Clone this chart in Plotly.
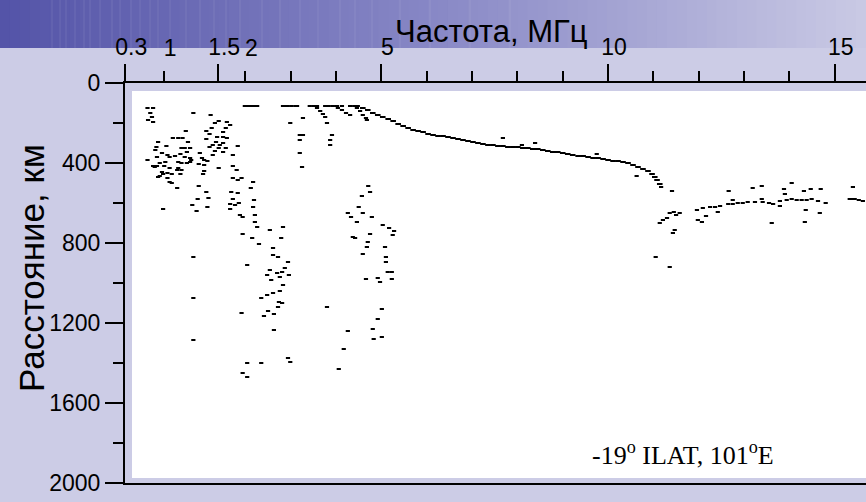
import numpy as np
import plotly.graph_objects as go

# ---------------------------------------------------------------------------
# Frequency scale of the ionogram: compressed below 2 MHz, linear above.
FREQ_KNOTS = [0.3, 1.0, 1.5, 2.0, 16.0]
AXIS_KNOTS = [-0.65, 0.21, 1.40, 2.0, 16.0]


def fpos(freq):
    """Map frequency (MHz) to the position on the frequency axis."""
    return np.interp(np.asarray(freq, dtype=float), FREQ_KNOTS, AXIS_KNOTS)


# Tick labels
MAJOR_TICKS = [0.3, 1.5, 5, 10, 15]
MAJOR_LABELS = ["0.3", "1.5", "5", "10", "15"]
EXTRA_TICKS = [1, 2]
EXTRA_LABELS = ["1", "2"]
MINOR_TICKS = [1, 2, 3, 4, 6, 7, 8, 9, 11, 12, 13, 14]
DIST_TICKS = [0, 400, 800, 1200, 1600, 2000]

# ---------------------------------------------------------------------------
# Echoes: frequency (MHz) and group range (km)

# low-frequency sporadic / spread echoes
low_freq = [0.70, 0.80, 0.75, 0.78, 0.71, 0.80,
            1.27, 1.43, 1.51, 1.44, 1.47, 1.66, 1.72, 1.64, 1.59,
            1.20, 1.39, 1.42, 1.59, 1.49, 1.66,
            0.89, 1.08, 1.13, 1.17, 1.22, 1.39, 1.48, 1.53, 1.59, 1.45, 1.51, 1.64, 1.42, 1.86,
            0.86, 1.02, 1.16, 1.19, 1.24, 1.21, 0.84, 0.96, 1.03, 1.15, 1.19, 1.24, 0.87, 1.05, 1.10,
            1.47, 1.59, 1.77, 1.45, 1.33, 1.25, 0.70, 0.92, 0.80, 0.87, 1.01, 1.13, 1.16, 1.21, 1.24,
            1.35, 1.37, 1.40, 1.32, 1.37, 1.05, 1.13, 1.12, 1.16, 1.51, 1.77,
            0.96, 0.98, 0.92, 1.07, 1.15, 0.89, 1.05, 1.07, 1.03, 1.37, 1.36,
            1.84, 1.77, 1.86, 1.93, 1.32, 1.12, 2.17, 2.12, 1.39, 1.74, 1.86,
            0.83, 1.00, 1.03,
            1.41, 1.31, 1.26, 1.30, 1.40, 1.77, 1.72, 1.81, 1.88, 1.72, 1.90, 1.95,
            2.19, 2.17, 2.21, 2.21, 2.26, 0.98]
low_dist = [125, 125, 150, 170, 185, 195,
            150, 160, 190, 225, 200, 195, 210, 225, 245,
            240, 240, 255, 270, 270, 275,
            295, 275, 275, 275, 295, 280, 295, 310, 300, 310, 325, 325, 320, 315,
            320, 315, 325, 325, 325, 345, 335, 350, 360, 355, 370, 375, 370, 370, 365,
            340, 345, 360, 360, 350, 385, 385, 400, 415, 415, 395, 395, 400, 400, 395,
            375, 385, 390, 405, 410, 425, 425, 435, 435, 425, 415,
            445, 455, 465, 455, 455, 470, 495, 500, 475, 440, 455,
            435, 475, 485, 475, 515, 525, 495, 525, 545, 545, 550,
            420, 415, 450,
            575, 580, 610, 640, 620, 580, 605, 610, 600, 630, 660, 670,
            585, 620, 660, 695, 720, 630]

# spread echoes around 2-3 MHz
spread_a_freq = [3.25, 2.54, 2.83, 1.95, 2.15, 2.30, 2.61, 2.79, 2.61, 2.72, 2.94, 2.87,
                 2.81, 2.70, 2.76, 2.54, 2.48, 2.57, 2.96, 2.83, 2.76, 2.61, 2.48, 2.35,
                 2.74, 2.81, 2.72, 2.50, 2.41, 2.63, 1.93, 2.63, 2.04, 1.27, 1.27, 1.27,
                 2.94, 2.99, 2.04, 2.35, 1.95, 2.04]
spread_a_dist = [420, 735, 720, 755, 775, 805, 825, 775, 860, 870, 895, 925,
                 945, 950, 970, 935, 960, 985, 960, 1010, 1040, 1050, 1060, 1075,
                 1095, 1100, 1120, 1140, 1165, 1155, 1150, 1235, 910, 870, 1075, 1285,
                 1375, 1395, 1400, 1400, 1450, 1470]

# spread echoes around 4-5 MHz
spread_b_freq = [4.71, 4.75, 4.57, 4.50, 4.26, 4.33, 4.59, 4.79, 4.46, 5.03, 5.17, 5.28,
                 5.25, 4.75, 4.37, 4.42, 4.70, 4.68, 5.08, 4.59, 5.10, 5.10, 5.14, 5.23,
                 4.92, 4.97, 4.66, 5.23, 3.80, 5.01, 4.92, 4.26, 4.81, 5.01, 4.83, 4.17,
                 4.06]
spread_b_dist = [515, 545, 565, 620, 650, 670, 650, 670, 695, 710, 725, 740,
                 760, 755, 770, 775, 795, 820, 820, 855, 870, 895, 945, 945,
                 975, 995, 980, 980, 1120, 1130, 1180, 1240, 1230, 1270, 1280, 1330,
                 1430]

# near-range echoes (lower edge of the record and short streaks)
top_freq = [1.99, 2.06, 2.12, 2.19, 2.26, 2.83, 2.92, 3.01, 3.10, 3.14,
            3.42, 3.50, 3.58, 3.76, 3.84, 3.93, 4.02, 4.13, 4.31, 4.40, 4.48,
            3.58, 3.65, 3.71, 3.76, 4.04, 4.13, 4.22, 4.31,
            4.46, 4.53, 4.59, 4.66, 4.68,
            2.99, 3.27, 3.80, 3.20, 3.27, 3.20, 3.20, 3.91, 3.87, 3.87, 7.68]
top_dist = [115, 115, 115, 115, 115, 115, 115, 115, 115, 115,
            115, 115, 115, 115, 115, 115, 115, 115, 115, 115, 115,
            125, 140, 155, 170, 125, 135, 150, 160,
            125, 140, 160, 175, 185,
            200, 175, 200, 260, 260, 285, 350, 260, 285, 310, 275]

# F-layer trace
f_freq = [4.59, 4.70, 4.81, 4.92, 5.03, 5.15, 5.26, 5.37, 5.48, 5.59, 5.70, 5.81,
          5.92, 6.03, 6.14, 6.25, 6.36, 6.47, 6.58, 6.69, 6.80, 6.91, 7.02, 7.13,
          7.24, 7.35, 7.46, 7.57, 7.68, 7.79, 7.90, 8.01, 8.12, 8.23, 8.34, 8.45,
          8.56, 8.67, 8.78, 8.89, 9.00, 9.11, 9.22, 9.34, 9.45, 9.56, 9.67, 9.78,
          9.89, 10.00, 10.11, 10.22, 10.33, 10.44, 10.55, 10.66, 10.77, 10.88,
          10.97, 11.03, 11.08, 11.14]
f_dist = [125, 135, 150, 160, 170, 180, 190, 205, 215, 225, 235, 240,
          245, 255, 260, 265, 265, 270, 275, 280, 285, 290, 295, 300,
          305, 310, 310, 315, 315, 320, 320, 320, 325, 325, 330, 330,
          335, 340, 345, 345, 350, 355, 360, 365, 365, 370, 375, 375,
          380, 385, 390, 390, 395, 400, 410, 420, 430, 440,
          455, 470, 485, 505]

f_extra_freq = [10.63, 11.17, 11.41, 8.10, 8.39, 9.75]
f_extra_dist = [465, 520, 540, 310, 300, 355]

# second trace above 11 MHz and scattered echoes
f2_freq = [11.36, 11.45, 11.50, 11.58, 11.30, 11.21, 11.14, 11.47, 11.43, 11.05, 11.36,
           11.98, 12.07, 12.16, 12.42,
           11.96, 12.09, 12.25, 12.36, 12.47, 12.65, 12.75, 12.86, 12.97, 13.08, 13.24,
           13.41, 13.55, 13.64, 13.79, 13.79, 13.94, 14.05, 14.16, 14.27, 14.38, 14.49,
           14.63, 14.80, 15.33, 15.40, 15.44, 15.53, 15.62,
           12.66, 12.75, 13.19, 13.39, 13.39, 13.88, 13.90, 14.05, 14.32, 14.47, 14.69,
           14.36, 14.34, 13.61, 14.67, 15.40]
f2_dist = [650, 645, 660, 650, 675, 685, 700, 735, 750, 870, 920,
           685, 695, 665, 645,
           635, 625, 620, 620, 615, 605, 605, 600, 600, 595, 595,
           595, 600, 605, 615, 590, 585, 580, 585, 585, 585, 580,
           590, 600, 580, 580, 580, 585, 590,
           540, 585, 525, 515, 580, 530, 555, 500, 540, 530, 530,
           635, 695, 700, 650, 520]

# ---------------------------------------------------------------------------
BG = "rgb(204,204,230)"
L_MARGIN, T_MARGIN, WIDTH, HEIGHT = 125, 83, 866, 502
PLOT_W, PLOT_H = WIDTH - L_MARGIN, 400
SANS = "Liberation Sans, Arial, sans-serif"


def px_x(px):
    return (px - L_MARGIN) / PLOT_W


def px_y(py):
    return (T_MARGIN + PLOT_H - py) / PLOT_H


fig = go.Figure()

dash = dict(symbol="line-ew", size=3, color="black", line=dict(color="black", width=2))
for fx, dy in [(low_freq, low_dist), (spread_a_freq, spread_a_dist),
               (spread_b_freq, spread_b_dist), (top_freq, top_dist),
               (f_extra_freq, f_extra_dist), (f2_freq, f2_dist)]:
    fig.add_trace(go.Scatter(x=fpos(fx), y=dy, mode="markers", marker=dash,
                             hoverinfo="skip", showlegend=False))

fig.add_trace(go.Scatter(x=fpos(f_freq), y=f_dist, mode="markers",
                         marker=dict(symbol="line-ew", size=4, color="black",
                                     line=dict(color="black", width=2)),
                         hoverinfo="skip", showlegend=False))

# holder trace for the overlaid label axis
fig.add_trace(go.Scatter(x=[None], y=[None], xaxis="x2", mode="markers",
                         hoverinfo="skip", showlegend=False))

shapes = []
# banner gradient across the top
n_band = 87
c0, c1, c2 = np.array([84, 84, 168]), np.array([136, 136, 198]), np.array([202, 202, 229])
for i in range(n_band):
    x0 = i * WIDTH / n_band
    t = (x0 + WIDTH / n_band / 2) / WIDTH
    c = c0 + (c1 - c0) * (t / 0.5) if t < 0.5 else c1 + (c2 - c1) * ((t - 0.5) / 0.5)
    shapes.append(dict(type="rect", xref="paper", yref="paper",
                       x0=px_x(x0), x1=px_x(x0 + WIDTH / n_band + 1),
                       y0=px_y(48), y1=px_y(0), line=dict(width=0),
                       fillcolor="rgb(%d,%d,%d)" % tuple(c.astype(int)), layer="below"))
# faint vertical streaks in the banner
for sx in [52, 60, 66, 75, 84, 90, 100, 112, 120, 131, 140, 150, 158, 170, 186, 200,
           214, 226, 240, 262, 280, 300, 318, 340, 355, 372, 400, 430, 470, 510]:
    shapes.append(dict(type="line", xref="paper", yref="paper",
                       x0=px_x(sx), x1=px_x(sx), y0=px_y(48), y1=px_y(0),
                       line=dict(color="rgba(255,255,255,0.10)", width=1), layer="below"))
# white record panel
shapes.append(dict(type="rect", xref="paper", yref="paper",
                   x0=px_x(132), x1=1.02, y0=px_y(478), y1=px_y(91),
                   line=dict(width=0), fillcolor="white", layer="below"))

tick_font = dict(family=SANS, size=23, color="black")

fig.update_layout(
    width=WIDTH, height=HEIGHT,
    margin=dict(l=L_MARGIN, r=0, t=T_MARGIN, b=HEIGHT - T_MARGIN - PLOT_H, pad=0),
    paper_bgcolor=BG, plot_bgcolor=BG,
    shapes=shapes,
    xaxis=dict(
        side="top", range=[-0.655, 15.689], showline=True, mirror=True,
        linecolor="black", linewidth=2, showgrid=False, zeroline=False,
        tickmode="array", tickvals=fpos(MAJOR_TICKS), ticktext=MAJOR_LABELS,
        ticks="outside", ticklen=17, tickwidth=2, tickcolor="black",
        minor=dict(tickmode="array", tickvals=fpos(MINOR_TICKS), ticks="outside",
                   ticklen=10, tickwidth=2, tickcolor="black", showgrid=False),
        tickfont=tick_font, ticklabelshift=6,
    ),
    xaxis2=dict(
        overlaying="x", side="top", range=[-0.655, 15.689], showline=False,
        showgrid=False, zeroline=False, tickmode="array",
        tickvals=fpos(EXTRA_TICKS), ticktext=EXTRA_LABELS,
        ticks="outside", ticklen=17, tickwidth=2, tickcolor="rgba(0,0,0,0)",
        tickfont=tick_font, ticklabelshift=6,
    ),
    yaxis=dict(
        range=[2000, 0], showline=True, linecolor="black", linewidth=2,
        showgrid=False, zeroline=False, tickmode="array", tickvals=DIST_TICKS,
        ticks="outside", ticklen=18, tickwidth=2, tickcolor="black",
        minor=dict(tickmode="linear", tick0=0, dtick=200, ticks="outside",
                   ticklen=10, tickwidth=2, tickcolor="black", showgrid=False),
        tickfont=dict(family=SANS, size=23, color="black"),
    ),
    annotations=[
        dict(text="Частота, МГц", xref="paper", yref="paper",
             x=px_x(491), y=px_y(51), xanchor="center", yanchor="bottom",
             showarrow=False, font=dict(family=SANS, size=31, color="black")),
        dict(text="Расстояние, км", xref="paper", yref="paper", textangle=-90,
             x=px_x(31), y=px_y(268), xanchor="center", yanchor="middle",
             showarrow=False, font=dict(family=SANS, size=35, color="black")),
        dict(text="-19<sup>o</sup> ILAT, 101<sup>o</sup>E", xref="paper", yref="paper",
             x=px_x(683), y=px_y(472), xanchor="center", yanchor="bottom",
             showarrow=False,
             font=dict(family="Liberation Serif, Times New Roman, serif", size=26,
                       color="black")),
    ],
)

fig.write_html("out.html")
